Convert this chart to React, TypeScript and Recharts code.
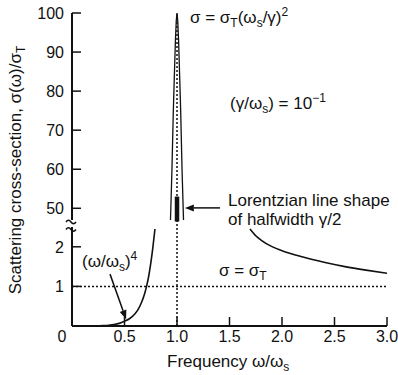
import { ComposedChart, Line, XAxis, YAxis, ReferenceLine } from "recharts";

// values (ω/ωs and σ/σT)
const rayleighW = [0, 0.1, 0.2, 0.3, 0.35, 0.4, 0.45, 0.5, 0.55, 0.6, 0.63, 0.66, 0.69, 0.71, 0.73, 0.75, 0.77, 0.79];
const rayleighS = [0, 0.0001, 0.002, 0.01, 0.02, 0.037, 0.066, 0.12, 0.19, 0.31, 0.42, 0.58, 0.8, 1.0, 1.25, 1.58, 1.98, 2.45];

const spikeW = [0.938, 0.952, 0.965, 0.976, 0.985, 0.993, 1.0, 1.007, 1.015, 1.024, 1.035, 1.048, 1.062];
const spikeS = [47, 60, 75, 85, 93, 98, 100, 98, 93, 85, 75, 60, 47];

const thomsonW = [1.695, 1.75, 1.8, 1.9, 2.0, 2.2, 2.4, 2.6, 2.8, 3.0];
const thomsonS = [2.45, 2.28, 2.17, 2.01, 1.9, 1.74, 1.61, 1.5, 1.41, 1.33];

const xTicks = [0, 0.5, 1, 1.5, 2, 2.5, 3];
const upperTicks = [50, 60, 70, 80, 90, 100];
const lowerTicks = [1, 2];

const rayleigh = rayleighW.map((w, i) => ({ w, s: rayleighS[i] }));
const spike = spikeW.map((w, i) => ({ w, s: spikeS[i] }));
const thomson = thomsonW.map((w, i) => ({ w, s: thomsonS[i] }));

const INK = "#111";
const FONT = "'Liberation Sans', Arial, sans-serif";

function YTick(props: any) {
  const { x, y, payload } = props;
  const ax = x + 8;
  return (
    <g>
      <line x1={ax} x2={ax + 9} y1={y} y2={y} stroke={INK} strokeWidth={1.5} />
      <text x={x} y={y} dy="0.36em" textAnchor="end" fontSize={16} fontFamily={FONT} fill={INK}>
        {payload.value}
      </text>
    </g>
  );
}

function XTick(props: any) {
  const { x, y, payload } = props;
  const ay = y - 5;
  const v = payload.value as number;
  return (
    <g>
      {v !== 0 && <line x1={x} x2={x} y1={ay} y2={ay - 9} stroke={INK} strokeWidth={1.5} />}
      <text x={v === 0 ? x - 10 : x} y={y} dy="0.71em" textAnchor="middle" fontSize={16} fontFamily={FONT} fill={INK}>
        {v === 0 ? "0" : v.toFixed(1)}
      </text>
    </g>
  );
}

function Arrow(props: any) {
  const { x1, y1, x2, y2 } = props;
  const a = Math.atan2(y2 - y1, x2 - x1);
  const L = 9;
  const W = 3.5;
  const bx = x2 - L * Math.cos(a);
  const by = y2 - L * Math.sin(a);
  const px = -Math.sin(a) * W;
  const py = Math.cos(a) * W;
  return (
    <g>
      <line x1={x1} y1={y1} x2={bx} y2={by} stroke={INK} strokeWidth={1.5} />
      <polygon points={`${x2},${y2} ${bx + px},${by + py} ${bx - px},${by - py}`} fill={INK} />
    </g>
  );
}

export default function App() {
  return (
    <div style={{ position: "absolute", left: 0, top: 0, width: 398, height: 375, background: "#fff" }}>
      {/* lower panel 0..2.5 */}
      <div style={{ position: "absolute", left: 0, top: 0 }}>
        <ComposedChart width={398} height={375} margin={{ top: 227, right: 11, bottom: 0, left: 0 }}>
          <XAxis
            dataKey="w"
            type="number"
            domain={[0, 3]}
            ticks={xTicks}
            interval={0}
            allowDataOverflow
            height={49}
            tickSize={0}
            tickMargin={5}
            tickLine={false}
            tick={<XTick />}
            axisLine={{ stroke: INK, strokeWidth: 2 }}
          />
          <YAxis
            type="number"
            domain={[0, 2.5]}
            ticks={lowerTicks}
            interval={0}
            allowDataOverflow
            width={72}
            tickSize={0}
            tickMargin={8}
            tickLine={false}
            tick={<YTick />}
            axisLine={{ stroke: INK, strokeWidth: 2 }}
          />
          <ReferenceLine y={1} stroke={INK} strokeWidth={1.5} strokeDasharray="2 2" />
          <ReferenceLine
            segment={[{ x: 1, y: 0 }, { x: 1, y: 2.75 }]}
            ifOverflow="visible"
            stroke={INK}
            strokeWidth={1.5}
            strokeDasharray="2 2"
          />
          <ReferenceLine
            segment={[{ x: 0.362, y: 1.31 }, { x: 0.515, y: 0.17 }]}
            stroke={INK}
            shape={<Arrow />}
          />
          <Line data={rayleigh} dataKey="s" type="monotone" stroke={INK} strokeWidth={1.6} dot={false} isAnimationActive={false} />
          <Line data={thomson} dataKey="s" type="monotone" stroke={INK} strokeWidth={1.6} dot={false} isAnimationActive={false} />
        </ComposedChart>
      </div>

      {/* upper panel 47..100 */}
      <div style={{ position: "absolute", left: 0, top: 0 }}>
        <ComposedChart width={398} height={230} margin={{ top: 13, right: 11, bottom: 10, left: 0 }}>
          <XAxis dataKey="w" type="number" domain={[0, 3]} allowDataOverflow hide />
          <YAxis
            type="number"
            domain={[47, 100]}
            ticks={upperTicks}
            interval={0}
            allowDataOverflow
            width={72}
            tickSize={0}
            tickMargin={8}
            tickLine={false}
            tick={<YTick />}
            axisLine={{ stroke: INK, strokeWidth: 2 }}
          />
          <ReferenceLine x={1} stroke={INK} strokeWidth={1.5} strokeDasharray="2 2" />
          <ReferenceLine
            segment={[{ x: 1, y: 46.6 }, { x: 1, y: 53 }]}
            ifOverflow="visible"
            stroke={INK}
            strokeWidth={4.5}
          />
          <ReferenceLine
            segment={[{ x: 1.41, y: 50.1 }, { x: 1.075, y: 50.1 }]}
            stroke={INK}
            shape={<Arrow />}
          />
          <Line data={spike} dataKey="s" type="linear" stroke={INK} strokeWidth={1.3} dot={false} isAnimationActive={false} />
        </ComposedChart>
      </div>

      {/* annotations */}
      <svg width={398} height={375} style={{ position: "absolute", left: 0, top: 0, pointerEvents: "none" }} fontFamily={FONT} fill={INK}>
        <path d="M66,222 q2.5,-3.5 5,0 t5,0" stroke={INK} strokeWidth={1.5} fill="none" />
        <path d="M66,229.5 q2.5,-3.5 5,0 t5,0" stroke={INK} strokeWidth={1.5} fill="none" />

        <text transform="translate(21,170) rotate(-90)" textAnchor="middle" fontSize={17}>
          Scattering cross-section, σ(ω)/σ<tspan dy={4} fontSize={12}>T</tspan>
        </text>
        <text x={167} y={367} fontSize={17}>
          Frequency ω/ω<tspan dy={4} fontSize={12}>s</tspan>
        </text>

        <text x={190} y={23} fontSize={17}>
          σ = σ<tspan dy={4} fontSize={12}>T</tspan>
          <tspan dy={-4}>(ω</tspan>
          <tspan dy={4} fontSize={12}>s</tspan>
          <tspan dy={-4}>/γ)</tspan>
          <tspan dy={-7} fontSize={12}>2</tspan>
        </text>
        <text x={230} y={109} fontSize={17}>
          (γ/ω<tspan dy={4} fontSize={12}>s</tspan>
          <tspan dy={-4}>) = 10</tspan>
          <tspan dy={-7} fontSize={12}>−1</tspan>
        </text>
        <text x={228} y={206} fontSize={17}>Lorentzian line shape</text>
        <text x={228} y={225} fontSize={17}>of halfwidth γ/2</text>
        <text x={219} y={276} fontSize={17}>
          σ = σ<tspan dy={4} fontSize={12}>T</tspan>
        </text>
        <text x={82} y={267} fontSize={17}>
          (ω/ω<tspan dy={4} fontSize={12}>s</tspan>
          <tspan dy={-4}>)</tspan>
          <tspan dy={-7} fontSize={12}>4</tspan>
        </text>
      </svg>
    </div>
  );
}
